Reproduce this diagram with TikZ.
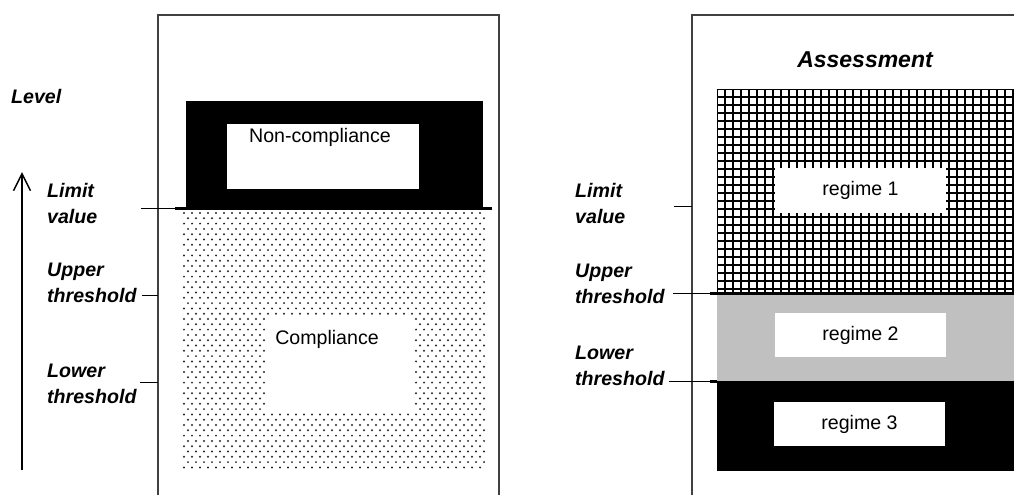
\documentclass[tikz,border=0pt]{standalone}
\usepackage{fontspec}
\setmainfont{Liberation Sans}
\usepackage{tikz}
\usetikzlibrary{arrows.meta}

\definecolor{regimegray}{RGB}{192,192,192}
\tikzset{
  lbl/.style={font=\fontsize{19.6}{26}\selectfont\bfseries\itshape, align=left, inner sep=0pt, anchor=north west},
  txt/.style={font=\fontsize{19.6}{24}\selectfont, inner sep=0pt},
  regbox/.style={txt, fill=white, minimum width=171pt, minimum height=44pt},
  panelframe/.style={line width=1.2pt, black!75},
  tickline/.style={line width=1pt},
  limline/.style={line width=3pt}
}

\begin{document}
\begin{tikzpicture}[x=1pt,y=-1pt]
\useasboundingbox (0,0) rectangle (1014,495);
\draw [panelframe] (158,495) -- (158,15) -- (499,15) -- (499,495);
\draw [panelframe] (692,495) -- (692,15) -- (1014,15);
\draw [line width=2pt, -{Straight Barb[length=17pt, width=17pt, line width=1.5pt]}] (22,470) -- (22,172);
\node [lbl, anchor=base west] (level) at (11,103) {Level};
\node [lbl] (limL) at (47,183) {Limit\\value};
\node [lbl] (uppL) at (47,263) {Upper\\threshold};
\node [lbl] (lowL) at (47,364) {Lower\\threshold};
\fill (186,101) rectangle (483,208);
\fill [white] (227,124) rectangle (419,189);
\node [txt] (noncomp) at (320,137) {Non-compliance};
\foreach \r in {0,...,48} {
  \pgfmathsetmacro\yy{213+5.3*\r}
  \pgfmathsetmacro\off{4*mod(\r,2)}
  \foreach \c in {0,...,37}
    \fill [black!85] (184+\off+8*\c,\yy) circle (1.1);
}
\fill [white] (265,315) rectangle (413,410);
\node [txt] (comp) at (327,339) {Compliance};
\draw [tickline] (141,208) -- (175,208) (142,295) -- (158,295) (140,382) -- (158,382);
\draw [limline] (175,208) -- (492,208);
\node [font=\fontsize{23}{28}\selectfont\bfseries\itshape, inner sep=0pt, anchor=base] (assess) at (865,67) {Assessment};
\node [lbl] (limR) at (575,183) {Limit\\value};
\node [lbl] (uppR) at (575,264) {Upper\\threshold};
\node [lbl] (lowR) at (575,346) {Lower\\threshold};
\begin{scope}
\clip (717,89) rectangle (1014,293);
\foreach \x in {717,725,...,1017}
  \draw [line width=2.8pt] (\x,85) -- (\x,297);
\foreach \y in {89,97,...,297}
  \draw [line width=2.8pt] (713,\y) -- (1018,\y);
\end{scope}
\fill [regimegray] (717,293) rectangle (1014,381);
\fill (717,381) rectangle (1014,471);
\node [regbox, minimum height=45pt] (reg1) at (860.5,190.5) {regime 1};
\node [regbox] (reg2) at (860.5,335) {regime 2};
\node [regbox] (reg3) at (859.5,424) {regime 3};
\draw [tickline] (674,206) -- (692,206) (673,293) -- (710,293) (669,381) -- (710,381);
\draw [limline] (710,293) -- (1014,293) (710,381) -- (717,381);
\end{tikzpicture}
\end{document}
